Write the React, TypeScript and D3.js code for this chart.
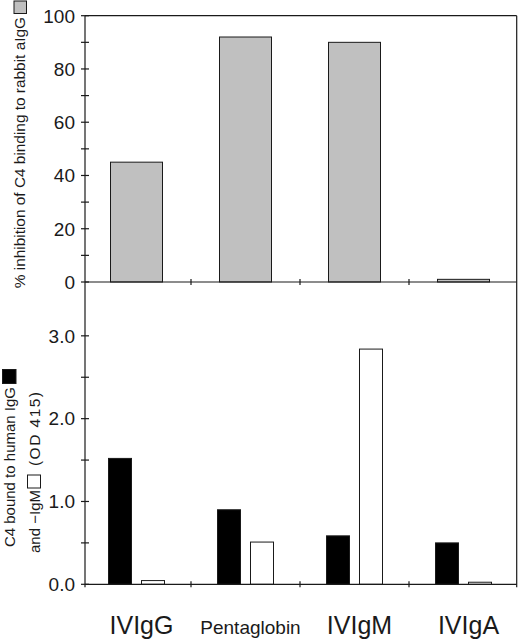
import React from "react";
import * as d3 from "d3";

const categories = ["IVIgG", "Pentaglobin", "IVIgM", "IVIgA"];
const inhibition = [45, 92, 90, 1];
const boundIgG = [1.52, 0.9, 0.585, 0.5];
const boundIgM = [0.045, 0.51, 2.84, 0.025];
const topTicks = d3.range(0, 101, 10);
const topLabels = [0, 20, 40, 60, 80, 100];
const bottomTicks = d3.range(0, 3.01, 0.5);
const bottomLabels = [0, 1, 2, 3];
const series = ["IgG", "IgM"];

const W = 520;
const H = 641;
const FONT = "'Liberation Sans', Arial, Helvetica, sans-serif";
const LEFT = 85;
const RIGHT = 516.7;
const TOP = 15.7;
const MID = 282;
const BOTTOM = 584.3;
const INK = "#1a1a1a";

export default function App() {
  const x = d3.scaleBand<string>().domain(categories).range([82, 518]);
  const yTop = d3.scaleLinear().domain([0, 100]).range([MID, TOP]);
  const yBot = d3.scaleLinear().domain([0, 3.65]).range([BOTTOM, MID]);
  const inner = d3.scaleBand<string>().domain(series).range([0, 56]).paddingInner(0.303);
  const topBarW = 52;
  const cx = (c: string) => (x(c) as number) + x.bandwidth() / 2;
  const bounds = categories.slice(1).map((c) => x(c) as number);
  const fmt = d3.format(".1f");

  return (
    <svg
      width={W}
      height={H}
      style={{ position: "absolute", left: 0, top: 0, background: "#fff" }}
      fontFamily={FONT}
    >
      <rect x={0} y={0} width={W} height={H} fill="#fff" />

      {/* top panel bars */}
      {categories.map((c, i) => (
        <rect
          key={"t" + c}
          x={cx(c) - topBarW / 2}
          y={yTop(inhibition[i])}
          width={topBarW}
          height={yTop(0) - yTop(inhibition[i])}
          fill="#c0c0c0"
          stroke={INK}
          strokeWidth={1}
        />
      ))}

      {/* bottom panel bars */}
      {categories.map((c, i) => {
        const g0 = cx(c) - 28;
        return (
          <g key={"b" + c}>
            <rect
              x={g0 + (inner("IgG") as number)}
              y={yBot(boundIgG[i])}
              width={inner.bandwidth()}
              height={yBot(0) - yBot(boundIgG[i])}
              fill="#000"
              stroke={INK}
              strokeWidth={1}
            />
            <rect
              x={g0 + (inner("IgM") as number)}
              y={yBot(boundIgM[i])}
              width={inner.bandwidth()}
              height={yBot(0) - yBot(boundIgM[i])}
              fill="#fff"
              stroke={INK}
              strokeWidth={1}
            />
          </g>
        );
      })}

      {/* frame */}
      <line x1={LEFT} x2={RIGHT} y1={TOP} y2={TOP} stroke={INK} strokeWidth={1.2} />
      <line x1={LEFT} x2={LEFT} y1={TOP} y2={BOTTOM + 3} stroke={INK} strokeWidth={1.2} />
      <line x1={RIGHT} x2={RIGHT} y1={TOP} y2={BOTTOM + 3} stroke={INK} strokeWidth={1.2} />
      <line x1={LEFT} x2={RIGHT} y1={MID} y2={MID} stroke={INK} strokeWidth={1.2} />
      <line x1={LEFT} x2={RIGHT} y1={BOTTOM} y2={BOTTOM} stroke={INK} strokeWidth={1.2} />

      {/* category boundary ticks */}
      {bounds.map((b, i) => (
        <g key={"ct" + i}>
          <line x1={b} x2={b} y1={MID - 3} y2={MID + 3} stroke={INK} strokeWidth={1.2} />
          <line x1={b} x2={b} y1={BOTTOM - 3} y2={BOTTOM + 3} stroke={INK} strokeWidth={1.2} />
        </g>
      ))}

      {/* top y axis ticks */}
      {topTicks.map((t) => (
        <line key={"tt" + t} x1={LEFT - 4} x2={LEFT + 4} y1={yTop(t)} y2={yTop(t)} stroke={INK} strokeWidth={1.2} />
      ))}
      {topLabels.map((t) => (
        <text key={"tl" + t} x={75} y={yTop(t)} dy="0.36em" textAnchor="end" fontSize={19} fill={INK}>
          {t}
        </text>
      ))}

      {/* bottom y axis ticks */}
      {bottomTicks.map((t) => (
        <line key={"bt" + t} x1={LEFT - 4} x2={LEFT + 4} y1={yBot(t)} y2={yBot(t)} stroke={INK} strokeWidth={1.2} />
      ))}
      {bottomLabels.map((t) => (
        <text key={"bl" + t} x={75} y={yBot(t)} dy="0.36em" textAnchor="end" fontSize={19} fill={INK}>
          {fmt(t)}
        </text>
      ))}

      {/* category labels */}
      {categories.map((c) => (
        <text
          key={"cl" + c}
          x={cx(c) + 5}
          y={634}
          textAnchor="middle"
          fontSize={c.length > 6 ? 19 : 25}
          fill={INK}
        >
          {c}
        </text>
      ))}

      {/* top y title */}
      <text
        transform="translate(19.5,17) rotate(-90)"
        textAnchor="end"
        dominantBaseline="central"
        fontSize={15.4}
        fill={INK}
      >
        % inhibition of C4 binding to rabbit aIgG
      </text>
      <rect x={14} y={1} width={12.5} height={12.5} fill="#c0c0c0" stroke={INK} strokeWidth={1} />

      {/* bottom y title */}
      <text
        transform="translate(9,387) rotate(-90)"
        textAnchor="end"
        dominantBaseline="central"
        fontSize={15}
        fill={INK}
      >
        C4 bound to human IgG
      </text>
      <rect x={2.5} y={369.5} width={13.5} height={14} fill="#000" stroke={INK} strokeWidth={1} />
      <text
        transform="translate(34,490) rotate(-90)"
        textAnchor="end"
        dominantBaseline="central"
        fontSize={15}
        fill={INK}
      >
        and −IgM
      </text>
      <rect x={27.5} y={475} width={13} height={13} fill="#fff" stroke={INK} strokeWidth={1} />
      <text
        transform="translate(34,466) rotate(-90)"
        textAnchor="start"
        dominantBaseline="central"
        fontSize={15.5}
        textLength={74}
        lengthAdjust="spacing"
        fill={INK}
      >
        (OD 415)
      </text>
    </svg>
  );
}
